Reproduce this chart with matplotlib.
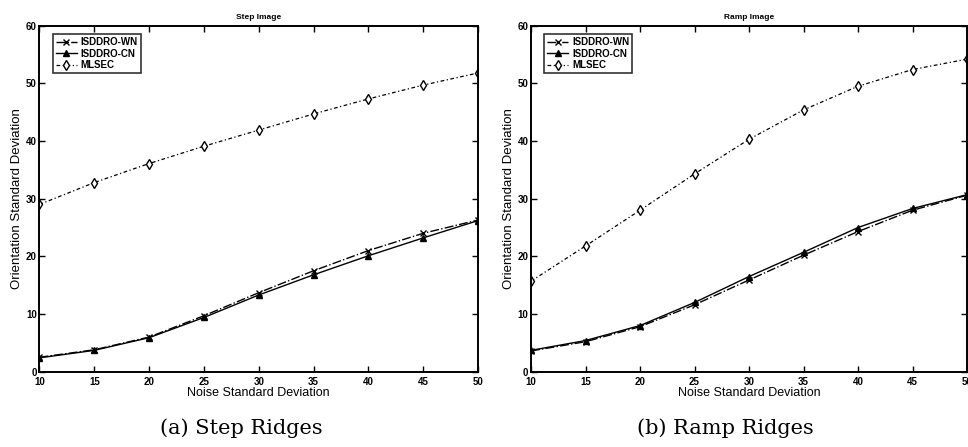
import matplotlib
matplotlib.use("Agg")
import matplotlib.pyplot as plt

noise = [10, 15, 20, 25, 30, 35, 40, 45, 50]

step_wn = [2.5, 3.8, 6.0, 9.7, 13.7, 17.5, 21.0, 24.0, 26.3]
step_cn = [2.4, 3.7, 5.9, 9.4, 13.3, 16.8, 20.1, 23.2, 26.2]
step_mlsec = [29.0, 32.8, 36.1, 39.1, 41.9, 44.7, 47.3, 49.7, 51.8]

ramp_wn = [3.6, 5.2, 7.8, 11.6, 15.9, 20.2, 24.3, 28.0, 30.6]
ramp_cn = [3.7, 5.4, 8.0, 12.0, 16.5, 20.7, 25.0, 28.3, 30.7]
ramp_mlsec = [15.7, 21.8, 28.0, 34.3, 40.3, 45.4, 49.5, 52.4, 54.2]

labels = ["ISDDRO-WN", "ISDDRO-CN", "MLSEC"]
titles = ["Step Image", "Ramp Image"]
captions = ["(a) Step Ridges", "(b) Ramp Ridges"]
xticks = [10, 15, 20, 25, 30, 35, 40, 45, 50]
yticks = [0, 10, 20, 30, 40, 50, 60]

plt.rcParams['font.family'] = ['Liberation Sans', 'DejaVu Sans']

fig = plt.figure(figsize=(9.68, 4.47), dpi=100)
positions = [[0.0408, 0.1685, 0.453, 0.774], [0.5486, 0.1685, 0.4504, 0.774]]
data = [(step_wn, step_cn, step_mlsec), (ramp_wn, ramp_cn, ramp_mlsec)]
cap_x = [241 / 968, 725 / 968]

for i in range(2):
    ax = fig.add_axes(positions[i])
    wn, cn, ml = data[i]
    ax.plot(noise, wn, color='black', linestyle='-.', linewidth=1.0, marker='x',
            markersize=4, label=labels[0])
    ax.plot(noise, cn, color='black', linestyle='-', linewidth=1.0, marker='^',
            markersize=5, label=labels[1])
    ax.plot(noise, ml, color='black', linestyle=(0, (3, 2, 1, 2)), linewidth=0.9,
            marker='d', markersize=5, markerfacecolor='white', label=labels[2])
    ax.set_xlim(10, 50)
    ax.set_ylim(0, 60)
    ax.set_xticks(xticks)
    ax.set_yticks(yticks)
    ax.tick_params(direction='in', top=True, right=True, length=4, width=1,
                   labelsize=7, pad=2)
    ax.tick_params(axis='x', pad=3.5)
    for lbl in ax.get_xticklabels() + ax.get_yticklabels():
        lbl.set_fontweight('bold')
    for s in ax.spines.values():
        s.set_linewidth(1.4)
    ax.set_title(titles[i], fontsize=6, fontweight='bold', pad=5)
    ax.set_xlabel("Noise Standard Deviation", fontsize=9, labelpad=0)
    ax.set_ylabel("Orientation Standard Deviation", fontsize=9.5, labelpad=2)
    leg = ax.legend(loc='upper left', bbox_to_anchor=(0.03, 0.975), fontsize=7,
                    frameon=True, fancybox=False, edgecolor='black',
                    handlelength=2.2, borderpad=0.3, labelspacing=0.15,
                    handletextpad=0.4, borderaxespad=0)
    leg.get_frame().set_linewidth(1.2)
    for t in leg.get_texts():
        t.set_fontweight('bold')
    fig.text(cap_x[i], 1 - 428 / 447, captions[i], ha='center', va='center',
             fontsize=15, family='DejaVu Serif')

fig.savefig("out.png", dpi=100)
